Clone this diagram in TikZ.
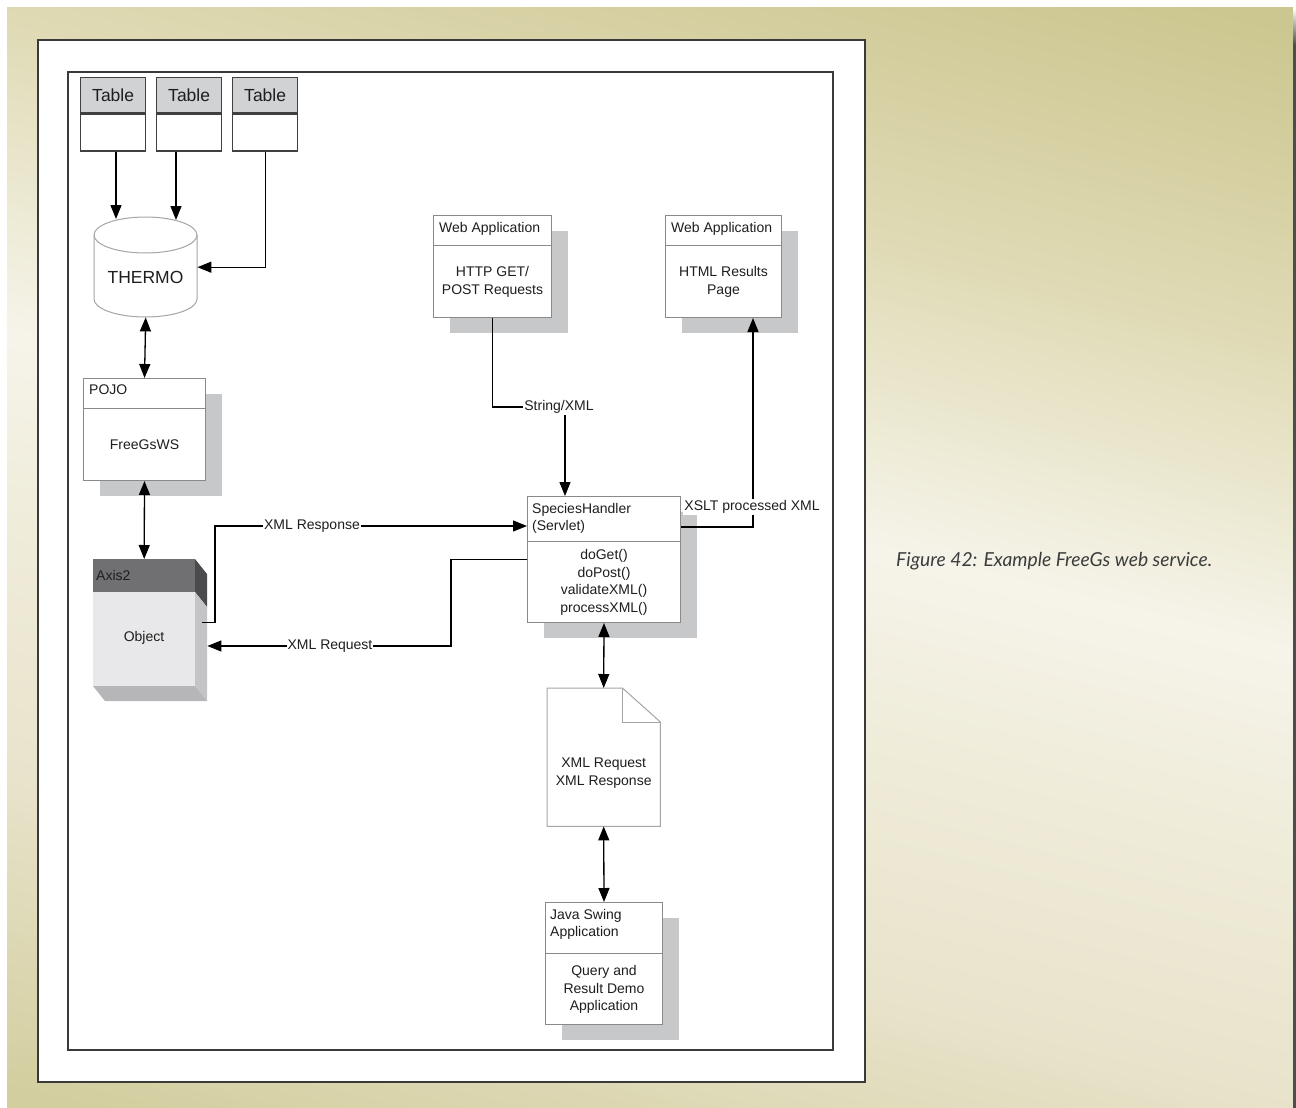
\documentclass[tikz,border=0pt]{standalone}
\usepackage{fontspec}
\setmainfont{Liberation Sans}
\newfontfamily\capfont{Lato}
\usetikzlibrary{arrows.meta,calc,shadows}

% page background tones
\definecolor{bgK}{HTML}{CFCA99}
\definecolor{bgBL}{HTML}{D3CE9F}
\definecolor{bgBR}{HTML}{E8E3CB}
\definecolor{bgL2}{HTML}{F0EDDC}
\definecolor{bgW}{HTML}{F6F4EA}
\definecolor{bgTL}{HTML}{DFDAB4}
\definecolor{bgTR}{HTML}{CCC690}
\definecolor{edgec}{HTML}{4D4D4D}
% diagram tones
\definecolor{txt}{HTML}{1E1E1E}
\definecolor{boxline}{HTML}{8A8A8A}
\definecolor{shadowc}{HTML}{C7C8CA}
\definecolor{tblline}{HTML}{404040}
\definecolor{tblfill}{HTML}{D0D2D4}
\definecolor{cylc}{HTML}{A5A5A5}
\definecolor{capc}{HTML}{3C3C3C}
\definecolor{panelc}{HTML}{3A3A3A}
\definecolor{axhead}{HTML}{707073}
\definecolor{axheadside}{HTML}{4B4B4E}
\definecolor{axbody}{HTML}{E8E8EA}
\definecolor{axbodyside}{HTML}{C4C4C6}
\definecolor{axbottom}{HTML}{B6B6B8}

\pgfdeclareverticalshading{bgband}{100bp}{color(0bp)=(bgK); color(25bp)=(bgK); color(30bp)=(bgBL); color(39bp)=(bgBR); color(47bp)=(bgL2); color(51.6bp)=(bgW); color(60.6bp)=(bgTL); color(69.5bp)=(bgTR); color(75bp)=(bgTR); color(100bp)=(bgTR)}

\tikzset{
  >={Triangle[length=14pt,width=11pt]},
  conn/.style={line width=1.3pt, draw=black},
  lbl/.style={fill=white, inner sep=1pt, font=\fontsize{14}{16}\selectfont, text=txt},
  umlbox/.style={draw=boxline, line width=1pt, fill=white, inner sep=0pt, anchor=north west,
    general shadow={fill=shadowc, shadow xshift=16pt, shadow yshift=-15pt}},
  divider/.style={draw=boxline, line width=1pt},
  headtxt/.style={anchor=north west, inner sep=0pt, align=left, font=\fontsize{14}{17.5}\selectfont, text=txt},
  bodytxt/.style={inner sep=0pt, align=center, font=\fontsize{14}{17.5}\selectfont, text=txt},
  tblhead/.style={draw=tblline, line width=1.3pt, fill=tblfill, minimum width=65, minimum height=35,
    anchor=north west, inner sep=0pt, font=\fontsize{17.5}{20}\selectfont, text=txt},
  tblbody/.style={draw=tblline, line width=1.3pt, fill=white, minimum width=65, minimum height=37,
    anchor=north west, inner sep=0pt},
  anchorbox/.style={inner sep=0pt, anchor=north west}
}

\begin{document}
\begin{tikzpicture}[x=1pt,y=-1pt]
\useasboundingbox (0,0) rectangle (1296,1108);
\fill[white] (0,0) rectangle (1296,1108);

% backdrop with a light diagonal band
\begin{scope}
  \clip (7,8) rectangle (1293,1108);
  \shade[shading=bgband, transform canvas={rotate around={-14:(650,560)}}] (-300,-300) rectangle (1600,1400);
\end{scope}
\shade[top color=white, bottom color=edgec] (1293,8) rectangle (1296,45);
\fill[edgec] (1293,45) rectangle (1296,1108);

% white sheet and drawing frame
\filldraw[fill=white, draw=panelc, line width=1.2pt] (38,40) rectangle (865,1082);
\draw[panelc, line width=1.4pt] (68,72) rectangle (833,1050);

% tables
\node[tblhead] (t1h) at (80,77) {Table};
\node[tblbody] (t1b) at (t1h.south west) {};
\node[tblhead] (t2h) at (156,77) {Table};
\node[tblbody] (t2b) at (t2h.south west) {};
\node[tblhead] (t3h) at (232,77) {Table};
\node[tblbody] (t3b) at (t3h.south west) {};

% THERMO database
\filldraw[fill=white, draw=cylc, line width=1pt] (94,235) -- (94,299)
  arc[start angle=180, end angle=360, x radius=51.5pt, y radius=18pt] -- (197,235)
  arc[start angle=0, end angle=180, x radius=51.5pt, y radius=18pt] -- cycle;
\draw[cylc, line width=1pt] (94,235) arc[start angle=180, end angle=360, x radius=51.5pt, y radius=18pt];
\node[anchorbox, minimum width=103, minimum height=100] (thermo) at (94,217) {};
\node[font=\fontsize{17.5}{20}\selectfont, text=txt] (thermot) at (145.5,277) {THERMO};

% POJO
\node[umlbox, minimum width=122, minimum height=102] (pojo) at (83,378) {};
\draw[divider] ($(pojo.north west)+(0,30)$) -- ($(pojo.north east)+(0,30)$);
\node[headtxt] (pojoh) at ($(pojo.north west)+(6,7)$) {POJO};
\node[bodytxt] (pojob) at ($(pojo.south)+(0,-36)$) {FreeGsWS};

% Axis2 object block
\node[anchorbox, minimum width=102, minimum height=127] (ax) at (93,559) {};
\fill[axheadside] (195,559) -- (207,574) -- (207,607) -- (195,592) -- cycle;
\fill[axbodyside] (195,592) -- (207,607) -- (207,701) -- (195,686) -- cycle;
\fill[axbottom] (93,686) -- (195,686) -- (207,701) -- (105,701) -- cycle;
\fill[axhead] (93,559) rectangle (195,592);
\fill[axbody] (93,592) rectangle (195,686);
\node[anchor=west, inner sep=0pt, font=\fontsize{14}{16}\selectfont, text=txt] (axh) at (96,575) {Axis2};
\node[bodytxt] (axb) at (144,638) {Object};

% web applications
\node[umlbox, minimum width=118, minimum height=102] (wa1) at (433,215) {};
\draw[divider] ($(wa1.north west)+(0,30)$) -- ($(wa1.north east)+(0,30)$);
\node[headtxt] (wa1h) at ($(wa1.north west)+(6,7)$) {Web Application};
\node[bodytxt] (wa1b) at ($(wa1.south)+(0,-36)$) {HTTP GET/\\POST Requests};

\node[umlbox, minimum width=116, minimum height=102] (wa2) at (665,215) {};
\draw[divider] ($(wa2.north west)+(0,30)$) -- ($(wa2.north east)+(0,30)$);
\node[headtxt] (wa2h) at ($(wa2.north west)+(6,7)$) {Web Application};
\node[bodytxt] (wa2b) at ($(wa2.south)+(0,-36)$) {HTML Results\\Page};

% servlet
\node[umlbox, minimum width=153, minimum height=126] (sh) at (527,496) {};
\draw[divider] ($(sh.north west)+(0,45)$) -- ($(sh.north east)+(0,45)$);
\node[headtxt] (shh) at ($(sh.north west)+(5,7)$) {SpeciesHandler\\(Servlet)};
\node[bodytxt] (shb) at ($(sh.south)+(0,-40.5)$) {doGet()\\doPost()\\validateXML()\\processXML()};

% XML document
\node[anchorbox, minimum width=113, minimum height=138] (doc) at (547,688) {};
\filldraw[fill=white, draw=cylc, line width=1pt] (doc.north west) -- ($(doc.north east)+(-38,0)$)
  -- ($(doc.north east)+(0,34)$) -- (doc.south east) -- (doc.south west) -- cycle;
\draw[cylc, line width=1pt] ($(doc.north east)+(-38,0)$) -- ($(doc.north east)+(-38,34)$) -- ($(doc.north east)+(0,34)$);
\node[bodytxt] (docb) at ($(doc.center)+(0,16)$) {XML Request\\XML Response};

% Swing client
\node[umlbox, minimum width=117, minimum height=122] (js) at (545,902) {};
\draw[divider] ($(js.north west)+(0,51)$) -- ($(js.north east)+(0,51)$);
\node[headtxt] (jsh) at ($(js.north west)+(5,7)$) {Java Swing\\Application};
\node[bodytxt] (jsb) at ($(js.south)+(0,-35.5)$) {Query and\\Result Demo\\Application};

% connectors
\coordinate (x1) at (116,0);
\coordinate (x2) at (176,0);
\draw[conn,->] (t1b.south -| x1) -- ($(thermo.north -| x1)+(0,2)$);
\draw[conn,->] (t2b.south -| x2) -- ($(thermo.north -| x2)+(0,3)$);
\draw[conn,->] (t3b.south) |- (thermo.east);
\draw[conn,<->] (thermo.south) -- (pojo.north);
\draw[conn,<->] (pojo.south) -- (ax.north);

\coordinate (rsp) at (215,526);
\draw[conn,->] ($(ax.east)+(7,0)$) -| (rsp) -- (rsp -| sh.west);
\coordinate (rq) at (451,646);
\draw[conn,->] (sh.west) -| (rq) -- ($(rq -| ax.east)+(12,0)$);

\coordinate (sx) at (565,407);
\draw[conn,->] (wa1.south) |- (sx) -- (sx |- sh.north);
\coordinate (xs) at (753,527);
\draw[conn,->] (xs -| sh.east) -- (xs) -- (xs |- wa2.south);

\draw[conn,<->] (sh.south) -- (doc.north);
\draw[conn,<->] (doc.south) -- (js.north);

% connector labels
\node[lbl] (rsplbl) at (312,526) {XML Response};
\node[lbl] (rqlbl) at (330,646) {XML Request};
\node[lbl] (sxlbl) at (559,407) {String/XML};
\node[lbl] (xslbl) at (752,507) {XSLT processed XML};

% caption
\node[anchor=west, inner sep=0pt, font=\capfont\itshape\fontsize{19.3}{21}\selectfont, text=capc] (cap) at (896,561) {Figure 42: Example FreeGs web service.};
\end{tikzpicture}
\end{document}
